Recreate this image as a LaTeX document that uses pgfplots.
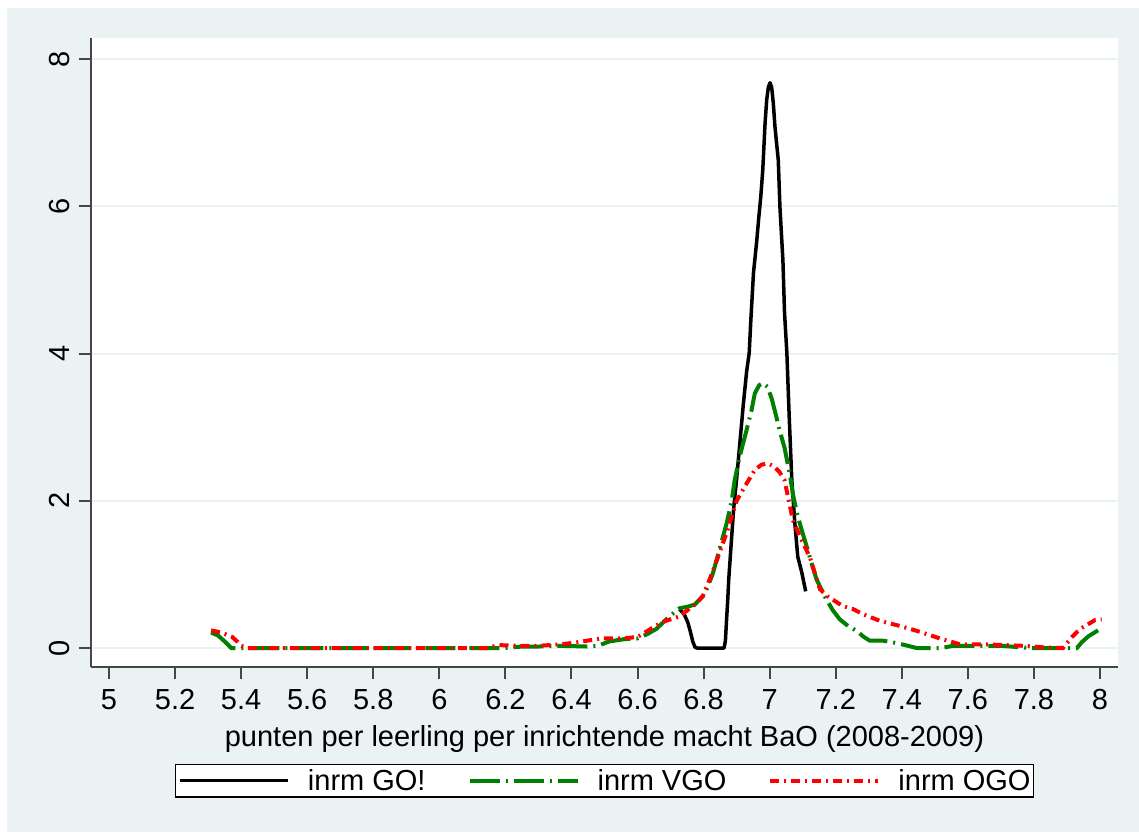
\documentclass[border=0pt]{standalone}
\usepackage{pgfplots}
\pgfplotsset{compat=1.18}
\usepackage{fontspec}
\setmainfont{Liberation Sans}

\definecolor{bgblue}{RGB}{234,242,243}
\definecolor{axisgray}{RGB}{70,70,70}
\definecolor{stgreen}{RGB}{0,128,0}
\definecolor{stred}{RGB}{255,0,0}

\begin{document}
\begin{tikzpicture}
  % graph region
  \fill[white] (0pt,0pt) rectangle (1139pt,832pt);
  \fill[bgblue] (7pt,0pt) rectangle (1139pt,824pt);
  \begin{axis}[
    at={(91pt,165pt)}, anchor=south west,
    scale only axis, width=1027pt, height=629pt,
    xmin=4.9455, xmax=8.0545, ymin=-0.258, ymax=8.288,
    axis background/.style={fill=white},
    axis x line*=bottom, axis y line*=left,
    axis line style={-, line width=2pt, color=axisgray},
    tick align=outside, major tick length=12pt,
    tick style={line width=2pt, color=axisgray},
    xtick={5,5.2,5.4,5.6,5.8,6,6.2,6.4,6.6,6.8,7,7.2,7.4,7.6,7.8,8},
    xticklabels={5,5.2,5.4,5.6,5.8,6,6.2,6.4,6.6,6.8,7,7.2,7.4,7.6,7.8,8},
    ytick={0,2,4,6,8},
    yticklabels={0,2,4,6,8},
    minor tick num=0,
    ymajorgrids, grid style={line width=2pt, color=bgblue},
    every tick label/.append style={font=\fontsize{29}{34}\selectfont},
    xticklabel style={inner sep=0pt, yshift=-10pt},
    yticklabel style={rotate=90, anchor=south, inner sep=0pt, yshift=9pt},
    xlabel={punten per leerling per inrichtende macht BaO (2008-2009)},
    xlabel style={font=\fontsize{29}{34}\selectfont,
      at={(axis description cs:0.5,-0.1256)}, anchor=base},
    legend columns=3,
    legend style={at={(0.5,-0.1805)}, anchor=center,
      draw=black, line width=1.5pt, fill=white,
      font=\fontsize{29}{34}\selectfont,
      inner xsep=3pt, inner ysep=5pt,
      nodes={inner sep=0pt, line width=1.5pt},
      /tikz/every odd column/.append style={column sep=18pt},
      /tikz/every even column/.append style={column sep=42pt}},
    legend image code/.code={\draw[#1] (0pt,0pt) -- (108pt,0pt);},
  ]
    % GO!
    \addplot[black, line width=3.5pt, line join=round] coordinates {
      (6.727,0.53) (6.742,0.45) (6.752,0.35) (6.760,0.22) (6.767,0.09)
      (6.774,0.01) (6.780,0.0) (6.862,0.0) (6.866,0.10) (6.869,0.35)
      (6.873,0.65) (6.876,0.93) (6.884,1.45) (6.891,1.90) (6.900,2.30)
      (6.910,2.80) (6.920,3.30) (6.930,3.75) (6.938,4.01) (6.943,4.46)
      (6.951,5.10) (6.961,5.54) (6.967,5.85) (6.973,6.13) (6.979,6.49)
      (6.986,7.13) (6.991,7.45) (6.996,7.62) (7.001,7.68) (7.006,7.62)
      (7.011,7.40) (7.016,7.08) (7.026,6.63) (7.031,5.99) (7.040,5.27)
      (7.045,4.55) (7.052,4.01) (7.059,3.15) (7.067,2.28) (7.076,1.70)
      (7.085,1.24) (7.097,1.03) (7.109,0.77)
    };
    \addlegendentry{inrm GO!}
    % VGO
    \addplot[stgreen, line width=4pt, dash pattern=on 30pt off 6pt on 2pt off 6pt] coordinates {
      (5.309,0.21) (5.33,0.17) (5.35,0.09) (5.37,0.0) (5.40,0.0)
      (6.20,0.0) (6.25,0.02) (6.30,0.02) (6.36,0.03) (6.45,0.02)
      (6.48,0.03) (6.515,0.09) (6.56,0.12) (6.60,0.13) (6.63,0.19)
      (6.657,0.26) (6.697,0.43) (6.727,0.54) (6.75,0.56) (6.773,0.59)
      (6.803,0.73) (6.827,1.00) (6.842,1.24) (6.856,1.47) (6.870,1.70)
      (6.885,2.00) (6.894,2.28) (6.909,2.60) (6.93,2.96) (6.945,3.23)
      (6.955,3.46) (6.968,3.57) (6.979,3.60) (6.993,3.55) (7.006,3.39)
      (7.018,3.18) (7.030,2.96) (7.045,2.72) (7.060,2.38) (7.070,2.10)
      (7.082,1.84) (7.097,1.60) (7.112,1.38) (7.127,1.15) (7.142,0.93)
      (7.167,0.70) (7.19,0.52) (7.212,0.39) (7.237,0.30) (7.264,0.23)
      (7.285,0.15) (7.303,0.10) (7.342,0.10) (7.37,0.08) (7.40,0.05)
      (7.445,0.00) (7.52,0.00) (7.555,0.03) (7.70,0.03) (7.788,0.00)
      (7.93,0.00) (7.945,0.08) (7.965,0.16) (7.994,0.24)
    };
    \addlegendentry{inrm VGO}
    % OGO
    \addplot[stred, line width=4pt, dash pattern=on 9pt off 5pt on 2pt off 5pt] coordinates {
      (5.309,0.24) (5.34,0.21) (5.373,0.15) (5.39,0.08) (5.40,0.03)
      (5.42,0.0) (6.15,0.0) (6.176,0.04) (6.24,0.03) (6.30,0.03)
      (6.37,0.05) (6.42,0.08) (6.49,0.13) (6.555,0.13) (6.60,0.15)
      (6.64,0.26) (6.673,0.35) (6.727,0.43) (6.773,0.59) (6.797,0.70)
      (6.818,0.93) (6.839,1.18) (6.870,1.57) (6.900,2.00) (6.924,2.19)
      (6.955,2.42) (6.975,2.49) (6.994,2.51) (7.012,2.47) (7.030,2.39)
      (7.045,2.28) (7.070,1.74) (7.095,1.48) (7.121,1.24) (7.152,0.80)
      (7.176,0.70) (7.221,0.57) (7.252,0.53) (7.282,0.46) (7.333,0.37)
      (7.394,0.30) (7.455,0.22) (7.515,0.13) (7.576,0.05) (7.646,0.05)
      (7.767,0.03) (7.827,0.01) (7.888,0.00) (7.915,0.15) (7.94,0.26)
      (7.985,0.38) (8.005,0.39)
    };
    \addlegendentry{inrm OGO}
  \end{axis}
\end{tikzpicture}
\end{document}
